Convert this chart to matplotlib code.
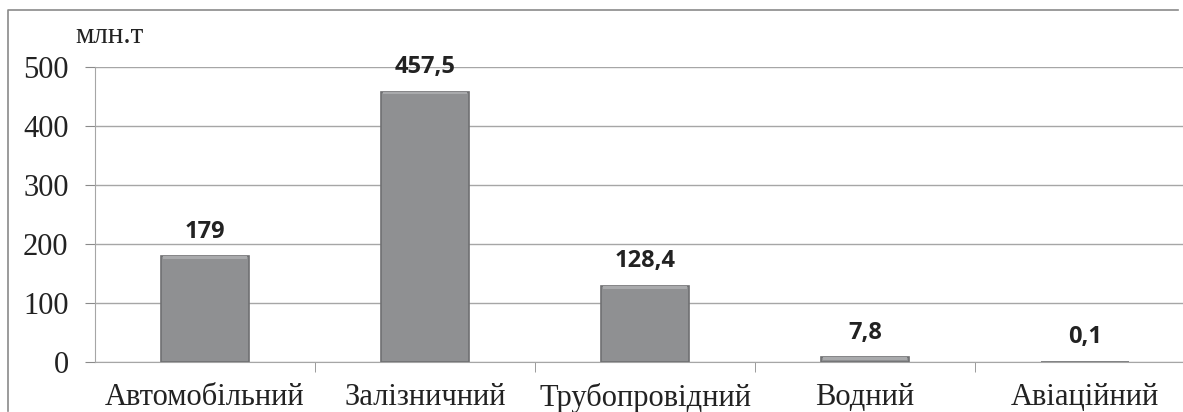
import matplotlib.pyplot as plt
from matplotlib.ticker import FixedLocator

categories = ['Автомобільний', 'Залізничний', 'Трубопровідний', 'Водний', 'Авіаційний']
values = [179, 457.5, 128.4, 7.8, 0.1]
labels = ['179', '457,5', '128,4', '7,8', '0,1']
yticks = [0, 100, 200, 300, 400, 500]

fig = plt.figure(figsize=(11.83, 4.12), dpi=100)
# plot area runs past the right edge in the source, so cut the x range instead
ax = fig.add_axes([95 / 1183, 50 / 412, 1088 / 1183, 295 / 412])

x = range(len(categories))
ax.bar(x, values, width=0.4, color='#8f9092', edgecolor='#6f7072',
       linewidth=1.2, zorder=3)
# lighter top edge for the bevel look
ax.bar(x, [min(v, 4) for v in values], bottom=[v - min(v, 4) for v in values],
       width=0.38, color='#a9aaac', linewidth=0, zorder=4)

for xi, v, lab in zip(x, values, labels):
    ax.annotate(lab, (xi, v), xytext=(0, 13.5), textcoords='offset points',
                ha='center', va='baseline', fontsize=17, fontweight='bold',
                family='Open Sans', color='#222222')

# outer chart frame (left and top edges), placed in axes fractions
fl = (8 - 95) / 1088
ft = (412 - 10 - 50) / 295
fb = -49 / 295
ax.plot([fl, fl, 0.995], [fb, ft, ft], transform=ax.transAxes, clip_on=False,
        color='#8a8a8a', linewidth=1.2)

ax.set_xlim(-0.5, len(categories) - 0.5 - 12 / 220)
ax.set_ylim(0, 500)
ax.set_yticks(yticks)
ax.set_xticks(list(x))
ax.set_xticklabels(categories, family='Liberation Serif', fontsize=22, color='#222222')
ax.xaxis.set_minor_locator(FixedLocator([i + 0.5 for i in range(len(categories) - 1)]))
ax.tick_params(axis='x', which='major', length=0, pad=15)
ax.tick_params(axis='x', which='minor', length=7, color='#8a8a8a', direction='out')
ax.tick_params(axis='y', length=7, color='#8a8a8a', pad=12, labelsize=22,
               labelcolor='#222222')
for t in ax.get_yticklabels():
    t.set_family('Liberation Serif')

ax.grid(axis='y', color='#a6a6a6', linewidth=1, zorder=0)
for s in ['top', 'right']:
    ax.spines[s].set_visible(False)
ax.spines['left'].set_color('#a6a6a6')
ax.spines['bottom'].set_color('#a6a6a6')

fig.text(75 / 1183, 1 - 36 / 412, 'млн.т', family='Liberation Serif',
         fontsize=21, va='center', ha='left', color='#222222')

fig.savefig('out.png', dpi=100)
